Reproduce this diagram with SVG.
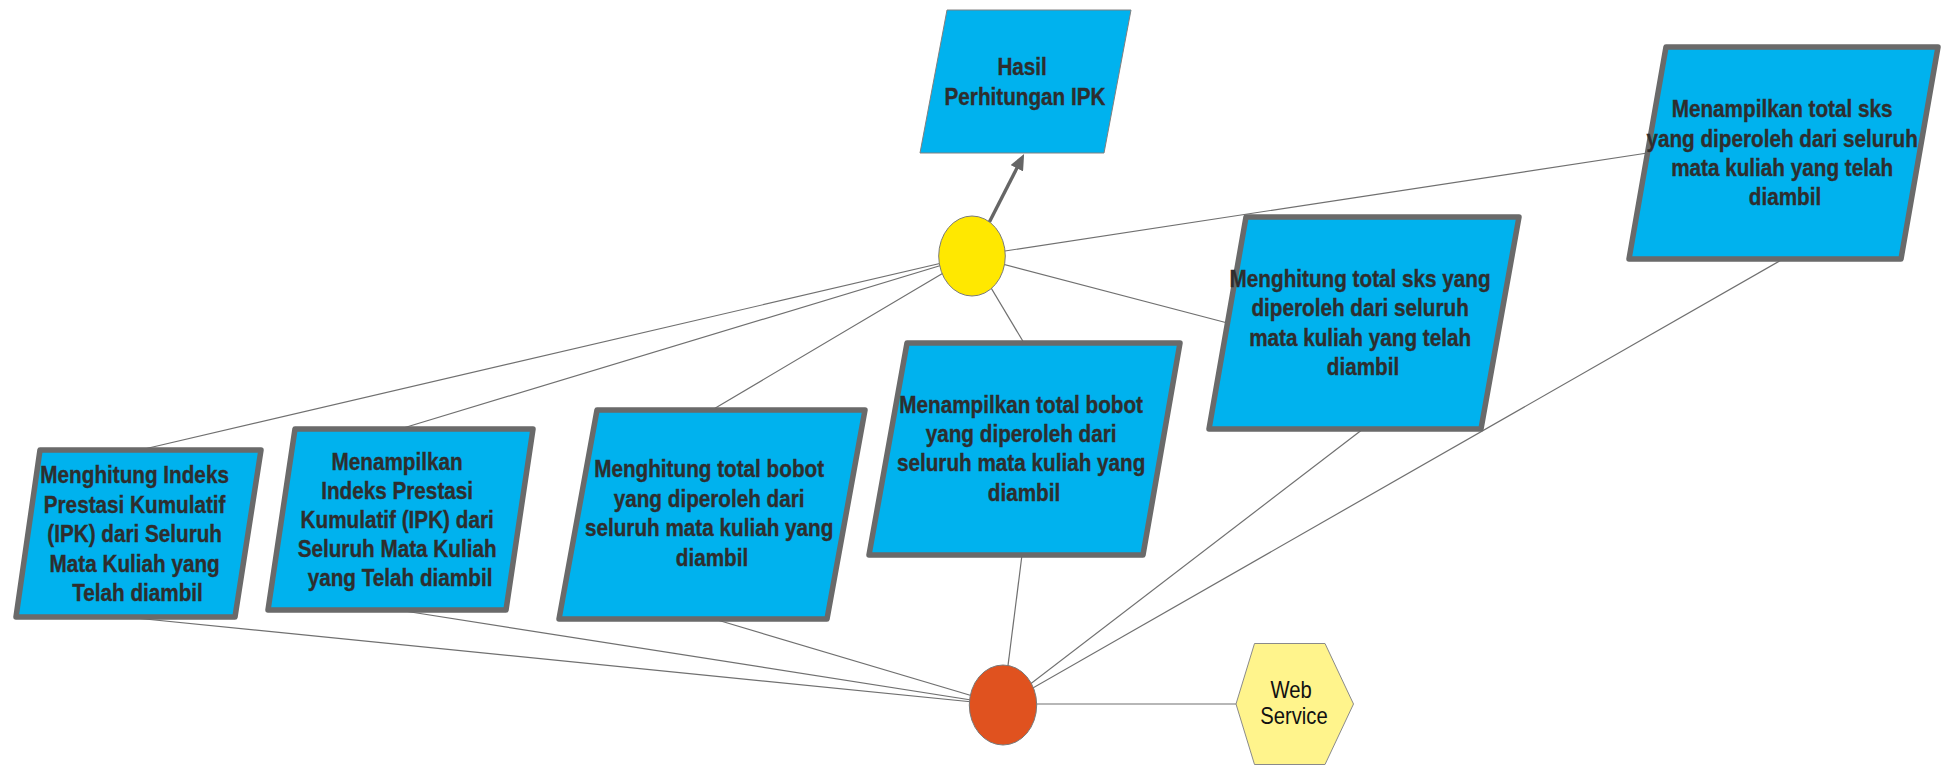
<svg xmlns="http://www.w3.org/2000/svg" width="1946" height="766" viewBox="0 0 1946 766">
  <style>
    .edge { stroke: #707070; stroke-width: 1.2; fill: none; }
    .flow { stroke: #666666; stroke-width: 3.4; fill: none; }
    .proc { fill: #00B2EE; stroke: #6A6A6A; stroke-width: 5.5; stroke-linejoin: round; }
    .out { fill: #00B2EE; stroke: #808080; stroke-width: 1; }
    .lbl { font-family: "Liberation Sans", Arial, sans-serif; font-weight: bold; font-size: 23px; fill: #2E2E2E; stroke: #2E2E2E; stroke-width: 0.35; text-anchor: middle; }
    .svc { font-family: "Liberation Sans", Arial, sans-serif; font-size: 23px; fill: #111111; text-anchor: middle; }
    .junction { stroke: #7A7A7A; stroke-width: 1; }
  </style>
  <defs>
    <marker id="arrow" markerUnits="userSpaceOnUse" viewBox="0 0 16 14" markerWidth="16" markerHeight="14" refX="7" refY="7" orient="auto">
      <path d="M0,0 L16,7 L0,14 z" fill="#666666"/>
    </marker>
  </defs>

  <rect width="1946" height="766" fill="#FFFFFF"/>

  <!-- connectors -->
  <g id="connectors">
    <!-- yellow junction to process boxes -->
    <line class="edge" x1="972" y1="256" x2="140" y2="450"/>
    <line class="edge" x1="972" y1="256" x2="400" y2="429"/>
    <line class="edge" x1="972" y1="256" x2="712" y2="410"/>
    <line class="edge" x1="972" y1="256" x2="1024" y2="343"/>
    <line class="edge" x1="972" y1="256" x2="1227.5" y2="323"/>
    <line class="edge" x1="972" y1="256" x2="1647.5" y2="153"/>
    <!-- orange junction to process boxes -->
    <line class="edge" x1="1003" y1="705" x2="125" y2="617"/>
    <line class="edge" x1="1003" y1="705" x2="398" y2="610"/>
    <line class="edge" x1="1003" y1="705" x2="714" y2="619"/>
    <line class="edge" x1="1003" y1="705" x2="1022" y2="555"/>
    <line class="edge" x1="1003" y1="705" x2="1363" y2="429"/>
    <line class="edge" x1="1003" y1="705" x2="1783" y2="259"/>
    <!-- orange junction to web service -->
    <line class="edge" x1="1003" y1="704" x2="1236" y2="704"/>
    <!-- result arrow -->
    <line class="flow" x1="989.4" y1="222" x2="1020" y2="162" marker-end="url(#arrow)"/>
  </g>

  <g id="hasil">
    <polygon class="out" points="947,10 1131,10 1104,153 920,153"/>
    <text class="lbl" transform="translate(1025 0) scale(0.9 1)">
      <tspan x="0" y="75">Hasil</tspan>
      <tspan x="0" y="105">Perhitungan IPK</tspan>
    </text>
  </g>

  <g id="hitung-ipk">
    <polygon class="proc" points="40,450 261,450 235,617 16,617"/>
    <text class="lbl" transform="translate(137.5 0) scale(0.9 1)">
      <tspan x="0" y="483.5">Menghitung Indeks</tspan>
      <tspan x="0" y="513">Prestasi Kumulatif</tspan>
      <tspan x="0" y="542.5">(IPK) dari Seluruh</tspan>
      <tspan x="0" y="572">Mata Kuliah yang</tspan>
      <tspan x="0" y="601.5">Telah diambil</tspan>
    </text>
  </g>

  <g id="tampil-ipk">
    <polygon class="proc" points="295,429 533,429 506,610 268,610"/>
    <text class="lbl" transform="translate(400 0) scale(0.9 1)">
      <tspan x="0" y="470">Menampilkan</tspan>
      <tspan x="0" y="499">Indeks Prestasi</tspan>
      <tspan x="0" y="528.5">Kumulatif (IPK) dari</tspan>
      <tspan x="0" y="557.5">Seluruh Mata Kuliah</tspan>
      <tspan x="0" y="586.5">yang Telah diambil</tspan>
    </text>
  </g>

  <g id="hitung-bobot">
    <polygon class="proc" points="597,410 865,410 827,619 559,619"/>
    <text class="lbl" transform="translate(712 0) scale(0.9 1)">
      <tspan x="0" y="477.5">Menghitung total bobot</tspan>
      <tspan x="0" y="507">yang diperoleh dari</tspan>
      <tspan x="0" y="536.5">seluruh mata kuliah yang</tspan>
      <tspan x="0" y="566">diambil</tspan>
    </text>
  </g>

  <g id="tampil-bobot">
    <polygon class="proc" points="907,343 1180,343 1143,555 869,555"/>
    <text class="lbl" transform="translate(1024 0) scale(0.9 1)">
      <tspan x="0" y="413">Menampilkan total bobot</tspan>
      <tspan x="0" y="442">yang diperoleh dari</tspan>
      <tspan x="0" y="471.5">seluruh mata kuliah yang</tspan>
      <tspan x="0" y="501">diambil</tspan>
    </text>
  </g>

  <g id="hitung-sks">
    <polygon class="proc" points="1246,217 1519,217 1481,429 1209,429"/>
    <text class="lbl" transform="translate(1363 0) scale(0.9 1)">
      <tspan x="0" y="287">Menghitung total sks yang</tspan>
      <tspan x="0" y="316.5">diperoleh dari seluruh</tspan>
      <tspan x="0" y="346">mata kuliah yang telah</tspan>
      <tspan x="0" y="375">diambil</tspan>
    </text>
  </g>

  <g id="tampil-sks">
    <polygon class="proc" points="1666,47 1938,47 1901,259 1629,259"/>
    <text class="lbl" transform="translate(1785 0) scale(0.9 1)">
      <tspan x="0" y="117.5">Menampilkan total sks</tspan>
      <tspan x="0" y="147">yang diperoleh dari seluruh</tspan>
      <tspan x="0" y="176.5">mata kuliah yang telah</tspan>
      <tspan x="0" y="205.5">diambil</tspan>
    </text>
  </g>

  <g id="junction-output">
    <ellipse class="junction" cx="972" cy="256" rx="33.3" ry="40" fill="#FFE800"/>
  </g>

  <g id="junction-input">
    <ellipse class="junction" cx="1003" cy="705" rx="33.7" ry="40" fill="#E0521F"/>
  </g>

  <g id="web-service">
    <polygon points="1236,704 1254.5,643.5 1325,643.5 1353.5,704 1325,764.5 1254.5,764.5" fill="#FFF48C" stroke="#8A8A8A" stroke-width="1"/>
    <text class="svc" transform="translate(1294 0) scale(0.88 1)">
      <tspan x="0" y="698">Web</tspan>
      <tspan x="0" y="724.5">Service</tspan>
    </text>
  </g>
</svg>
